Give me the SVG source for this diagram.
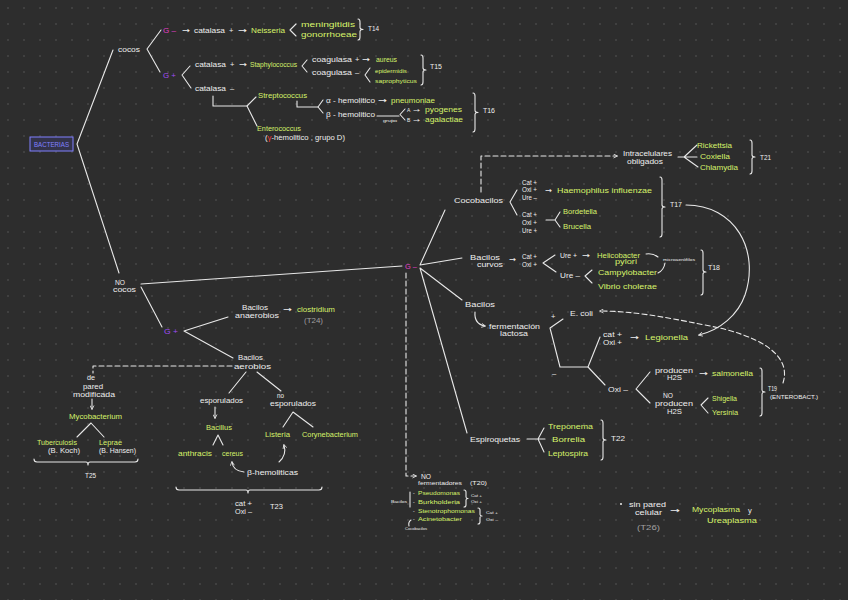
<svg xmlns="http://www.w3.org/2000/svg" width="848" height="600" viewBox="0 0 848 600">
<defs>
<pattern id="dots" x="0" y="0" width="16" height="16" patternUnits="userSpaceOnUse"><circle cx="8" cy="8" r="0.8" fill="#575757"/></pattern>
<marker id="ah" viewBox="0 0 10 10" refX="8" refY="5" markerWidth="5" markerHeight="5" orient="auto" markerUnits="userSpaceOnUse"><path d="M1,1 L9,5 L1,9" fill="none" stroke="#e8e8e8" stroke-width="1.6"/></marker>
<style>
text{font-family:"Liberation Sans",Arial,sans-serif;font-size:7.5px}
text.ar{font-family:"DejaVu Sans",sans-serif}
.w{fill:#eeeeee}
.g{fill:#d6f26a}
.m{fill:#e23fc6}
.p{fill:#a24cf5}
.gr{fill:#a0a0a0}
.b{fill:#8080ff}
.s6{font-size:6.3px}
.s5{font-size:5px}
.s4{font-size:3.8px}
.ln{fill:none;stroke:#e8e8e8;stroke-width:1.1;stroke-linecap:round;stroke-linejoin:round}
.ds{stroke-dasharray:5 3}
</style>
</defs>
<rect width="848" height="600" fill="#2d2d2d"/>
<rect width="848" height="600" fill="url(#dots)"/>

<g id="connectors">
<path class="ln" d="M113,50 L77,144 L119,273"/>
<path class="ln" d="M161,30 L147,49 L160,72"/>
<path class="ln" d="M190,66 L182,75 L191,88"/>
<path class="ln" d="M296,24 L290,30 L296,36"/>
<path class="ln" d="M307,60 L302,66 L307,72"/>
<path class="ln" d="M370,68 L365,75 L370,82"/>
<path class="ln" d="M213,96 L213,106 L247,106"/>
<path class="ln" d="M256,97 L247,106 L257,126"/>
<path class="ln" d="M297,101 L297,107 L318,107"/>
<path class="ln" d="M323,100 L318,107 L323,113"/>
<path class="ln" d="M377,116 L399,116"/>
<path class="ln" d="M405,109 L400,114.5 L405,120"/>
<path class="ln" d="M141,284 L402,266"/>
<path class="ln" d="M141,287 L162,327"/>
<path class="ln" d="M228,317 L184,331 L233,358"/>
<path class="ln ds" d="M232,366 L93,366 L93,373"/>
<path class="ln" d="M92,399 L92,409" marker-end="url(#ah)"/>
<path class="ln" d="M77,437 L91,423 L104,437"/>
<path class="ln" d="M246,372 L229,393"/>
<path class="ln" d="M257,372 L281,391"/>
<path class="ln" d="M215,407 L215,418" marker-end="url(#ah)"/>
<path class="ln" d="M213,445 L218,435 L223,445"/>
<path class="ln" d="M283,427 L293,412 L313,427"/>
<path class="ln" d="M244,472 Q233,471 232,462" marker-end="url(#ah)"/>
<path class="ln" d="M279,462 Q287,455 284,445" marker-end="url(#ah)"/>
<path class="ln" d="M445,210 L420,265 L462,258"/>
<path class="ln" d="M462,300 L420,268 L467,433"/>
<path class="ln ds" d="M406,273 L406,476 L416,476" marker-end="url(#ah)"/>
<path class="ln ds" d="M481,192 L481,156 L617,156" marker-end="url(#ah)"/>
<path class="ln" d="M678,157 L697,157 M697,145 L684,157 L698,167"/>
<path class="ln" d="M517,190 L510,202 L517,215"/>
<path class="ln" d="M546,220 L555,220 M560,212 L555,220 L560,227"/>
<path class="ln" d="M686,205 C735,205 760,250 745,295 C738,315 720,330 699,335" marker-end="url(#ah)"/>
<path class="ln" d="M555,255 L543,263 L556,272"/>
<path class="ln" d="M646,254 Q653,253 658,257 M665,263 Q664,270 658,273"/>
<path class="ln" d="M592,270 L585,276 L592,283"/>
<path class="ln" d="M475,312 Q474,324 485,326" marker-end="url(#ah)"/>
<path class="ln" d="M563,319 L550,328 L560,367 L588,367"/>
<path class="ln" d="M600,337 L588,367 L605,385"/>
<path class="ln" d="M650,372 L636,389 L650,403"/>
<path class="ln" d="M708,398 L701,405 L708,413"/>
<path class="ln ds" d="M783,383 C792,355 760,335 705,325 C660,316 630,311 600,311" marker-end="url(#ah)"/>
<path class="ln" d="M527,439 L545,439 M544,428 L538,439 L544,452"/>
<path class="ln" d="M410,492 L410,507"/>
<path class="ln" d="M411,520 Q408,522 409,526"/>
</g>

<g id="braces">
<path class="ln" d="M358,19 Q360,19 360,22 L360,27.5 Q360,29.5 363,29.5 Q360,29.5 360,31.5 L360,37 Q360,40 358,40"/>
<path class="ln" d="M421,55 Q423,55 423,58 L423,68 Q423,70 426,70 Q423,70 423,72 L423,82 Q423,85 421,85"/>
<path class="ln" d="M473,93 Q475,93 475,96 L475,110.5 Q475,112.5 478,112.5 Q475,112.5 475,114.5 L475,129 Q475,132 473,132"/>
<path class="ln" d="M750,140 Q752,140 752,143 L752,155 Q752,157 755,157 Q752,157 752,159 L752,171 Q752,174 750,174"/>
<path class="ln" d="M660,177 Q662,177 662,180 L662,205 Q662,207 665,207 Q662,207 662,209 L662,234 Q662,237 660,237"/>
<path class="ln" d="M701,250 Q703,250 703,253 L703,270 Q703,272 706,272 Q703,272 703,274 L703,292 Q703,295 701,295"/>
<path class="ln" d="M760,368 Q762,368 762,371 L762,390 Q762,392 765,392 Q762,392 762,394 L762,413 Q762,416 760,416"/>
<path class="ln" d="M601,420 Q603,420 603,423 L603,438 Q603,440 606,440 Q603,440 603,442 L603,457 Q603,460 601,460"/>
<path class="ln" d="M464,490 Q466,490 466,492 L466,497 Q466,498.5 468,498.5 Q466,498.5 466,500 L466,505 Q466,507 464,507"/>
<path class="ln" d="M478,508 Q480,508 480,510 L480,514.5 Q480,516 482,516 Q480,516 480,517.5 L480,522 Q480,524 478,524"/>
<path class="ln" d="M34,459 Q34,462 37,462 L86,462 Q88,462 88,465 Q88,462 90,462 L135,462 Q138,462 138,459"/>
<path class="ln" d="M176,487 Q176,490 179,490 L246,490 Q248,490 248,493 Q248,490 250,490 L319,490 Q322,490 322,487"/>
</g>

<g id="bacterias">
<rect x="30" y="137" width="43" height="14" fill="#33334a" stroke="#8080ff" stroke-width="1"/>
<text class="b" x="34" y="146.5" textLength="35" lengthAdjust="spacingAndGlyphs" style="font-size:6.5px">BACTERIAS</text>
</g>

<g id="cocos"><text class="w" x="118" y="51.5" textLength="22" lengthAdjust="spacingAndGlyphs">cocos</text></g>

<g id="cocos-gneg">
<text class="m" x="163" y="32.5" textLength="13" lengthAdjust="spacingAndGlyphs">G –</text>
<text class="w ar" x="182" y="32.5" textLength="8" lengthAdjust="spacingAndGlyphs">→</text>
<text class="w" x="194" y="32.5" textLength="31" lengthAdjust="spacingAndGlyphs">catalasa</text>
<text class="w" x="229" y="32.5">+</text>
<text class="w ar" x="238" y="32.5" textLength="9" lengthAdjust="spacingAndGlyphs">→</text>
<text class="g" x="251" y="32.5" textLength="34" lengthAdjust="spacingAndGlyphs">Neisseria</text>
<text class="g" x="301" y="26.5" textLength="54" lengthAdjust="spacingAndGlyphs">meningitidis</text>
<text class="g" x="301" y="36.5" textLength="56" lengthAdjust="spacingAndGlyphs">gonorrhoeae</text>
<text class="w" x="368" y="30.5" textLength="11" lengthAdjust="spacingAndGlyphs">T14</text>
</g>

<g id="cocos-gpos">
<text class="p" x="163" y="77.5" textLength="13" lengthAdjust="spacingAndGlyphs">G +</text>
<text class="w" x="195" y="66.5" textLength="31" lengthAdjust="spacingAndGlyphs">catalasa</text>
<text class="w" x="230" y="66.5">+</text>
<text class="w ar" x="239" y="66.5" textLength="8" lengthAdjust="spacingAndGlyphs">→</text>
<text class="g s6" x="250" y="66.5" textLength="47" lengthAdjust="spacingAndGlyphs">Staphylococcus</text>
<text class="w" x="312" y="61.5" textLength="40" lengthAdjust="spacingAndGlyphs">coagulasa</text>
<text class="w" x="355" y="61.5">+</text>
<text class="w ar" x="362" y="61.5" textLength="8" lengthAdjust="spacingAndGlyphs">→</text>
<text class="g s6" x="376" y="61.5" textLength="21" lengthAdjust="spacingAndGlyphs">aureus</text>
<text class="w" x="312" y="74.5" textLength="40" lengthAdjust="spacingAndGlyphs">coagulasa</text>
<text class="w" x="355" y="74.5">–</text>
<text class="g s5" x="375" y="73" textLength="32" lengthAdjust="spacingAndGlyphs">epidermidis</text>
<text class="g s5" x="375" y="83" textLength="42" lengthAdjust="spacingAndGlyphs">saprophyticus</text>
<text class="w" x="430" y="68.5" textLength="12" lengthAdjust="spacingAndGlyphs">T15</text>
<text class="w" x="195" y="90.5" textLength="31" lengthAdjust="spacingAndGlyphs">catalasa</text>
<text class="w" x="230" y="90.5">–</text>
</g>

<g id="streptococcus">
<text class="g s6" x="258" y="97.5" textLength="49" lengthAdjust="spacingAndGlyphs">Streptococcus</text>
<text class="w" x="326" y="102.5" textLength="49" lengthAdjust="spacingAndGlyphs">α - hemolitico</text>
<text class="w ar" x="378" y="102.5" textLength="9" lengthAdjust="spacingAndGlyphs">→</text>
<text class="g" x="391" y="102.5" textLength="44" lengthAdjust="spacingAndGlyphs">pneumoniae</text>
<text class="w" x="326" y="116.5" textLength="49" lengthAdjust="spacingAndGlyphs">β - hemolitico</text>
<text class="w s4" x="383" y="121.5" textLength="14" lengthAdjust="spacingAndGlyphs">grupo</text>
<text class="w s5" x="407" y="111.5">A</text>
<text class="w s5 ar" x="413" y="111.5" textLength="7" lengthAdjust="spacingAndGlyphs">→</text>
<text class="g" x="425" y="111.5" textLength="37" lengthAdjust="spacingAndGlyphs">pyogenes</text>
<text class="w s5" x="407" y="121.5">B</text>
<text class="w s5 ar" x="413" y="121.5" textLength="7" lengthAdjust="spacingAndGlyphs">→</text>
<text class="g" x="425" y="121.5" textLength="38" lengthAdjust="spacingAndGlyphs">agalactiae</text>
<text class="w" x="483" y="112.5" textLength="12" lengthAdjust="spacingAndGlyphs">T16</text>
</g>

<g id="enterococcus">
<text class="g s6" x="257" y="130.5" textLength="44" lengthAdjust="spacingAndGlyphs">Enterococcus</text>
<text class="w s6" x="265" y="139.5" textLength="80" lengthAdjust="spacingAndGlyphs">(<tspan fill="#ff3a3a">γ</tspan>-hemolitico , grupo D)</text>
</g>

<g id="no-cocos">
<text class="w" x="115" y="284.5" textLength="10" lengthAdjust="spacingAndGlyphs">NO</text>
<text class="w" x="113" y="292" textLength="23" lengthAdjust="spacingAndGlyphs">cocos</text>
</g>

<g id="gpos-bacilos">
<text class="p" x="164" y="333.5" textLength="14" lengthAdjust="spacingAndGlyphs">G +</text>
<text class="w" x="242" y="309.5" textLength="26" lengthAdjust="spacingAndGlyphs">Bacilos</text>
<text class="w" x="235" y="317.5" textLength="44" lengthAdjust="spacingAndGlyphs">anaerobios</text>
<text class="w ar" x="283" y="311.5" textLength="9" lengthAdjust="spacingAndGlyphs">→</text>
<text class="g s6" x="297" y="311.5" textLength="38" lengthAdjust="spacingAndGlyphs">clostridium</text>
<text class="gr" x="304" y="322.5" textLength="19" lengthAdjust="spacingAndGlyphs">(T24)</text>
<text class="w" x="238" y="359.5" textLength="25" lengthAdjust="spacingAndGlyphs">Bacilos</text>
<text class="w" x="234" y="368.5" textLength="37" lengthAdjust="spacingAndGlyphs">aerobios</text>
</g>

<g id="mycobacterium">
<text class="w" x="87" y="380" textLength="8" lengthAdjust="spacingAndGlyphs">de</text>
<text class="w" x="83" y="388.5" textLength="20" lengthAdjust="spacingAndGlyphs">pared</text>
<text class="w" x="73" y="396.5" textLength="42" lengthAdjust="spacingAndGlyphs">modificada</text>
<text class="g s6" x="69" y="419" textLength="53" lengthAdjust="spacingAndGlyphs">Mycobacterium</text>
<text class="g s6" x="37" y="444.5" textLength="40" lengthAdjust="spacingAndGlyphs">Tuberculosis</text>
<text class="w s6" x="48" y="453" textLength="32" lengthAdjust="spacingAndGlyphs">(B. Koch)</text>
<text class="g s6" x="99" y="444.5" textLength="23" lengthAdjust="spacingAndGlyphs">Leprae</text>
<text class="w s6" x="99" y="453" textLength="37" lengthAdjust="spacingAndGlyphs">(B. Hansen)</text>
<text class="w s6" x="85" y="477.5" textLength="11" lengthAdjust="spacingAndGlyphs">T25</text>
</g>

<g id="esporulados">
<text class="w" x="200" y="402.5" textLength="43" lengthAdjust="spacingAndGlyphs">esporulados</text>
<text class="g s6" x="206" y="429.5" textLength="26" lengthAdjust="spacingAndGlyphs">Bacillus</text>
<text class="g s6" x="178" y="455.5" textLength="34" lengthAdjust="spacingAndGlyphs">anthracis</text>
<text class="g s6" x="222" y="455.5" textLength="21" lengthAdjust="spacingAndGlyphs">cereus</text>
</g>

<g id="no-esporulados">
<text class="w" x="277" y="398" textLength="7" lengthAdjust="spacingAndGlyphs">no</text>
<text class="w" x="270" y="405.5" textLength="46" lengthAdjust="spacingAndGlyphs">esporulados</text>
<text class="g s6" x="265" y="436.5" textLength="25" lengthAdjust="spacingAndGlyphs">Listeria</text>
<text class="g s6" x="302" y="436.5" textLength="56" lengthAdjust="spacingAndGlyphs">Corynebacterium</text>
<text class="w" x="247" y="474.5" textLength="51" lengthAdjust="spacingAndGlyphs">β-hemoliticas</text>
<text class="w s6" x="235" y="506" textLength="17" lengthAdjust="spacingAndGlyphs">cat +</text>
<text class="w s6" x="235" y="514" textLength="17" lengthAdjust="spacingAndGlyphs">Oxi –</text>
<text class="w s6" x="270" y="509" textLength="13" lengthAdjust="spacingAndGlyphs">T23</text>
</g>

<g id="gneg"><text class="m" x="405" y="269" textLength="12" lengthAdjust="spacingAndGlyphs">G –</text></g>

<g id="cocobacilos">
<text class="w" x="454" y="203" textLength="49" lengthAdjust="spacingAndGlyphs">Cocobacilos</text>
<text class="w s6" x="522" y="185" textLength="15" lengthAdjust="spacingAndGlyphs">Cat +</text>
<text class="w s6" x="522" y="192" textLength="15" lengthAdjust="spacingAndGlyphs">Oxi +</text>
<text class="w s6" x="522" y="199.5" textLength="15" lengthAdjust="spacingAndGlyphs">Ure –</text>
<text class="w ar" x="545" y="192.5" textLength="7" lengthAdjust="spacingAndGlyphs">→</text>
<text class="g" x="557" y="192.5" textLength="95" lengthAdjust="spacingAndGlyphs">Haemophilus influenzae</text>
<text class="w s6" x="522" y="217" textLength="15" lengthAdjust="spacingAndGlyphs">Cat +</text>
<text class="w s6" x="522" y="225" textLength="15" lengthAdjust="spacingAndGlyphs">Oxi +</text>
<text class="w s6" x="522" y="232.5" textLength="15" lengthAdjust="spacingAndGlyphs">Ure +</text>
<text class="g" x="563" y="213.5" textLength="34" lengthAdjust="spacingAndGlyphs">Bordetella</text>
<text class="g" x="563" y="228.5" textLength="28" lengthAdjust="spacingAndGlyphs">Brucella</text>
<text class="w" x="670" y="206.5" textLength="12" lengthAdjust="spacingAndGlyphs">T17</text>
</g>

<g id="intracelulares">
<text class="w" x="623" y="156" textLength="49" lengthAdjust="spacingAndGlyphs">Intracelulares</text>
<text class="w" x="627" y="163.5" textLength="36" lengthAdjust="spacingAndGlyphs">obligados</text>
<text class="g" x="697" y="147.5" textLength="35" lengthAdjust="spacingAndGlyphs">Rickettsia</text>
<text class="g" x="700" y="158.5" textLength="30" lengthAdjust="spacingAndGlyphs">Coxiella</text>
<text class="g" x="700" y="169.5" textLength="38" lengthAdjust="spacingAndGlyphs">Chlamydia</text>
<text class="w" x="760" y="159.5" textLength="11" lengthAdjust="spacingAndGlyphs">T21</text>
</g>

<g id="bacilos-curvos">
<text class="w" x="470" y="259.5" textLength="30" lengthAdjust="spacingAndGlyphs">Bacilos</text>
<text class="w" x="477" y="267" textLength="26" lengthAdjust="spacingAndGlyphs">curvos</text>
<text class="w ar" x="509" y="261.5" textLength="7" lengthAdjust="spacingAndGlyphs">→</text>
<text class="w s6" x="522" y="259" textLength="15" lengthAdjust="spacingAndGlyphs">Cat +</text>
<text class="w s6" x="522" y="266.5" textLength="15" lengthAdjust="spacingAndGlyphs">Oxi +</text>
<text class="w s6" x="560" y="257.5" textLength="17" lengthAdjust="spacingAndGlyphs">Ure +</text>
<text class="w ar" x="582" y="257.5" textLength="8" lengthAdjust="spacingAndGlyphs">→</text>
<text class="g s6" x="597" y="257.5" textLength="43" lengthAdjust="spacingAndGlyphs">Helicobacter</text>
<text class="g s6" x="615" y="263.5" textLength="22" lengthAdjust="spacingAndGlyphs">pylori</text>
<text class="w s4" x="663" y="261" textLength="32" lengthAdjust="spacingAndGlyphs">microaerófilos</text>
<text class="w s6" x="560" y="277.5" textLength="20" lengthAdjust="spacingAndGlyphs">Ure –</text>
<text class="g" x="598" y="274.5" textLength="59" lengthAdjust="spacingAndGlyphs">Campylobacter</text>
<text class="g" x="598" y="288.5" textLength="59" lengthAdjust="spacingAndGlyphs">Vibrio cholerae</text>
<text class="w" x="708" y="269.5" textLength="12" lengthAdjust="spacingAndGlyphs">T18</text>
</g>

<g id="bacilos">
<text class="w" x="465" y="306.5" textLength="30" lengthAdjust="spacingAndGlyphs">Bacilos</text>
<text class="w" x="489" y="328.5" textLength="51" lengthAdjust="spacingAndGlyphs">fermentación</text>
<text class="w" x="500" y="336" textLength="28" lengthAdjust="spacingAndGlyphs">lactosa</text>
<text class="w" x="551" y="318.5">+</text>
<text class="w" x="570" y="315.5" textLength="23" lengthAdjust="spacingAndGlyphs">E. coli</text>
<text class="w" x="552" y="376">–</text>
<text class="w s6" x="603" y="337" textLength="19" lengthAdjust="spacingAndGlyphs">cat +</text>
<text class="w s6" x="603" y="344.5" textLength="19" lengthAdjust="spacingAndGlyphs">Oxi +</text>
<text class="w ar" x="630" y="339.5" textLength="9" lengthAdjust="spacingAndGlyphs">→</text>
<text class="g" x="645" y="339.5" textLength="43" lengthAdjust="spacingAndGlyphs">Legionella</text>
<text class="w" x="608" y="391.5" textLength="20" lengthAdjust="spacingAndGlyphs">Oxi –</text>
<text class="w" x="655" y="372.5" textLength="38" lengthAdjust="spacingAndGlyphs">producen</text>
<text class="w" x="667" y="380" textLength="15" lengthAdjust="spacingAndGlyphs">H2S</text>
<text class="w ar" x="699" y="375.5" textLength="9" lengthAdjust="spacingAndGlyphs">→</text>
<text class="g s6" x="712" y="375.5" textLength="41" lengthAdjust="spacingAndGlyphs">salmonella</text>
<text class="w" x="663" y="397.5" textLength="10" lengthAdjust="spacingAndGlyphs">NO</text>
<text class="w" x="655" y="405.5" textLength="38" lengthAdjust="spacingAndGlyphs">producen</text>
<text class="w" x="667" y="414" textLength="15" lengthAdjust="spacingAndGlyphs">H2S</text>
<text class="g s6" x="712" y="400.5" textLength="25" lengthAdjust="spacingAndGlyphs">Shigella</text>
<text class="g s6" x="712" y="414.5" textLength="26" lengthAdjust="spacingAndGlyphs">Yersinia</text>
<text class="w s6" x="768" y="390.5" textLength="9" lengthAdjust="spacingAndGlyphs">T19</text>
<text class="w s5" x="770" y="399" textLength="48" lengthAdjust="spacingAndGlyphs">(ENTEROBACT.)</text>
</g>

<g id="espiroquetas">
<text class="w" x="470" y="441.5" textLength="50" lengthAdjust="spacingAndGlyphs">Espiroquetas</text>
<text class="g" x="548" y="428.5" textLength="45" lengthAdjust="spacingAndGlyphs">Treponema</text>
<text class="g" x="552" y="441.5" textLength="33" lengthAdjust="spacingAndGlyphs">Borrelia</text>
<text class="g" x="548" y="455.5" textLength="40" lengthAdjust="spacingAndGlyphs">Leptospira</text>
<text class="w" x="611" y="440.5" textLength="14" lengthAdjust="spacingAndGlyphs">T22</text>
</g>

<g id="no-fermentadores">
<text class="w" x="421" y="479" textLength="10" lengthAdjust="spacingAndGlyphs">NO</text>
<text class="w s5" x="418" y="485" textLength="44" lengthAdjust="spacingAndGlyphs">fermentadores</text>
<text class="w s5" x="470" y="485" textLength="17" lengthAdjust="spacingAndGlyphs">(T20)</text>
<text class="w s4" x="391" y="502.5" textLength="16" lengthAdjust="spacingAndGlyphs">Bacilos</text>
<text class="w s5" x="413" y="495">-</text>
<text class="g s5" x="418" y="495" textLength="42" lengthAdjust="spacingAndGlyphs">Pseudomonas</text>
<text class="w s5" x="413" y="504">-</text>
<text class="g s5" x="418" y="504" textLength="42" lengthAdjust="spacingAndGlyphs">Burkholderia</text>
<text class="w s4" x="471" y="497" textLength="11" lengthAdjust="spacingAndGlyphs">Cat +</text>
<text class="w s4" x="471" y="502.5" textLength="11" lengthAdjust="spacingAndGlyphs">Oxi +</text>
<text class="w s5" x="413" y="513">-</text>
<text class="g s5" x="418" y="513" textLength="57" lengthAdjust="spacingAndGlyphs">Stenotrophomonas</text>
<text class="w s5" x="413" y="521">-</text>
<text class="g s5" x="418" y="521" textLength="44" lengthAdjust="spacingAndGlyphs">Acinetobacter</text>
<text class="w s4" x="486" y="514" textLength="12" lengthAdjust="spacingAndGlyphs">Cat +</text>
<text class="w s4" x="486" y="520.5" textLength="12" lengthAdjust="spacingAndGlyphs">Oxi –</text>
<text class="w s4" x="405" y="529.5" textLength="22" lengthAdjust="spacingAndGlyphs">Cocobacilos</text>
</g>

<g id="sin-pared">
<circle cx="621" cy="504" r="1" fill="#eeeeee"/>
<text class="w" x="629" y="507" textLength="37" lengthAdjust="spacingAndGlyphs">sin pared</text>
<text class="w" x="635" y="515" textLength="27" lengthAdjust="spacingAndGlyphs">celular</text>
<text class="w ar" x="670" y="512.5" textLength="10" lengthAdjust="spacingAndGlyphs">→</text>
<text class="g" x="692" y="511.5" textLength="48" lengthAdjust="spacingAndGlyphs">Mycoplasma</text>
<text class="w" x="748" y="513">y</text>
<text class="g" x="707" y="522.5" textLength="50" lengthAdjust="spacingAndGlyphs">Ureaplasma</text>
<text class="gr" x="637" y="529.5" textLength="23" lengthAdjust="spacingAndGlyphs">(T26)</text>
</g>
</svg>
